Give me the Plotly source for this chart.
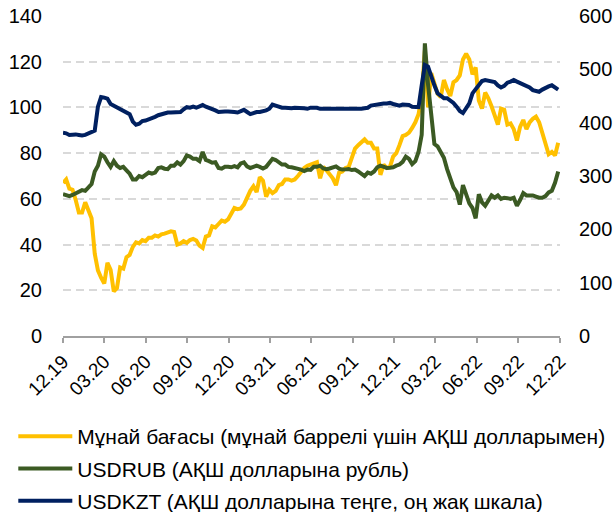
import pandas as pd
import plotly.graph_objects as go

# Weekly observations (Tuesdays) from 31.12.2019 to 27.12.2022
dates = pd.date_range("2019-12-31", periods=157, freq="7D")

oil = [
    67.0, 68.5, 64.5, 64.0, 59.5, 54.0, 54.0, 58.5, 55.0, 51.5,
    36.0, 28.7, 25.5, 23.0, 32.0, 29.0, 19.5, 21.0, 30.0, 29.5,
    34.5, 35.5, 39.0, 41.0, 40.5, 42.0, 41.5, 43.0, 43.0, 44.0,
    43.5, 44.5, 44.8, 45.5, 45.8, 45.5, 40.0, 40.5, 41.5, 40.8,
    42.0, 42.5, 41.8, 39.5, 38.5, 43.5, 44.0, 48.0, 47.5, 49.0,
    50.5, 50.0, 51.0, 53.5, 56.0, 55.5, 55.8, 57.5, 61.0, 63.5,
    65.5, 63.0, 69.5, 68.0, 61.0, 64.0, 62.5, 63.5, 66.0, 66.5,
    68.5, 68.5, 68.0, 68.5, 70.0, 72.0, 73.5, 74.5, 75.0, 75.5,
    76.0, 69.0, 74.0, 72.5, 70.5, 69.0, 66.0, 71.5, 72.0, 73.5,
    74.0, 78.0, 82.0, 83.5, 85.0, 86.0, 84.5, 84.5, 82.0, 82.0,
    70.5, 75.0, 73.5, 74.0, 78.5, 80.0, 83.5, 87.5, 88.0, 89.0,
    91.0, 93.5, 97.0, 105.0, 125.0, 100.0, 115.0, 110.0, 106.0, 104.5,
    112.0, 108.0, 105.0, 111.0, 112.0, 114.0, 121.0, 123.5, 121.0, 114.5,
    117.5, 103.0, 99.5, 106.5, 104.0, 100.5, 96.5, 92.5, 99.5, 99.0,
    92.5, 93.0, 90.5, 85.5, 91.5, 94.5, 90.5, 93.5, 95.0, 96.0,
    93.5, 88.5, 83.0, 79.5, 80.5, 79.0, 84.5,
]

usdrub = [
    62.0, 61.8, 61.2, 61.7, 62.5, 63.5, 63.8, 63.5, 65.0, 66.5,
    72.0, 74.5, 79.5, 78.5, 76.0, 74.0, 76.5, 74.5, 73.5, 74.0,
    72.5, 71.0, 68.5, 68.5, 70.0, 69.5, 70.5, 71.5, 71.0, 71.5,
    73.5, 73.8, 73.2, 73.0, 74.5, 74.5, 76.0, 75.0, 76.5, 79.0,
    78.5, 77.5, 77.5, 76.5, 80.5, 77.0, 76.5, 75.8, 76.0, 73.5,
    73.2, 74.0, 74.0, 73.8, 74.3, 73.8, 75.5, 76.0, 74.2, 73.5,
    74.0, 74.5, 74.0, 73.3, 74.0, 75.8, 77.5, 77.0, 76.0, 75.0,
    75.0, 74.0, 73.8, 73.5, 73.5, 72.8, 72.2, 72.8, 72.7, 74.0,
    74.0, 74.5, 73.3, 73.0, 73.3, 73.8, 74.2, 73.2, 72.8, 72.9,
    73.0, 72.6, 72.8, 72.0, 71.0, 70.0, 71.5, 71.0, 72.0, 73.8,
    74.5, 73.8, 73.5, 73.6, 73.8, 74.5, 75.0, 76.2, 78.5, 77.5,
    75.2, 76.5, 80.5, 88.0, 128.0, 110.0, 98.0, 84.0, 83.0, 80.0,
    78.0, 73.0, 68.5, 65.0, 63.0, 57.5, 66.0, 61.5, 58.0, 56.0,
    51.5, 62.0, 58.5, 57.0, 59.5, 61.5, 60.5, 61.5, 60.0, 60.5,
    60.3, 60.0, 60.5, 57.0, 59.5, 62.5, 61.5, 61.5, 61.5, 61.0,
    60.5, 60.5, 61.2, 62.8, 63.5, 67.0, 72.0,
]

usdkzt = [
    381, 380, 377, 378, 378, 377, 376, 377, 380, 382,
    385, 430, 448, 447, 445, 435, 432, 428, 425, 421,
    420, 416, 402, 396, 398, 403, 404, 406, 409, 411,
    414, 416, 418, 419, 419, 419, 420, 420, 425, 429,
    428, 430, 428, 431, 433, 430, 428, 425, 423, 420,
    421, 421, 421, 421, 420, 419, 422, 424, 420, 416,
    418, 420, 420, 421, 423, 426, 434, 432, 429, 428,
    428, 427, 427, 428, 428, 427, 427, 426, 428, 428,
    428, 426, 426, 425, 425, 425, 425, 425, 426, 426,
    425, 426, 426, 426, 426, 427, 428, 432, 433, 434,
    436, 436, 436, 437, 435, 434, 432, 434, 433, 433,
    430, 430, 429, 470, 508, 505, 490, 470, 455, 450,
    446, 446, 442, 437, 430, 422, 418, 426, 436, 455,
    462, 471, 478, 480, 479, 478, 476, 470, 466, 469,
    475, 477, 480, 477, 474, 472, 470, 466, 461, 460,
    458, 462, 466, 468, 470, 467, 462,
]

tick_dates = ["2019-12-31", "2020-03-31", "2020-06-30", "2020-09-30", "2020-12-31",
              "2021-03-31", "2021-06-30", "2021-09-30", "2021-12-31",
              "2022-03-31", "2022-06-30", "2022-09-30", "2022-12-31"]
tick_labels = ["12.19", "03.20", "06.20", "09.20", "12.20", "03.21", "06.21",
               "09.21", "12.21", "03.22", "06.22", "09.22", "12.22"]

names = ["Мұнай бағасы (мұнай баррелі үшін АҚШ долларымен)",
         "USDRUB (АҚШ долларына рубль)",
         "USDKZT (АҚШ долларына теңге, оң жақ шкала)"]
colors = ["#FFC000", "#3B5A23", "#002060"]

fig = go.Figure()
fig.add_trace(go.Scatter(x=dates, y=oil, name=names[0], mode="lines",
                         line=dict(color=colors[0], width=4), legendgroup="a"))
fig.add_trace(go.Scatter(x=dates, y=usdrub, name=names[1], mode="lines",
                         line=dict(color=colors[1], width=4), legendgroup="b"))
fig.add_trace(go.Scatter(x=dates, y=usdkzt, name=names[2], mode="lines", yaxis="y2",
                         line=dict(color=colors[2], width=4), legendgroup="c"))

font_family = "Liberation Sans, Arial, sans-serif"
fig.update_layout(
    width=615, height=512,
    margin=dict(l=63, r=55, t=16, b=176, autoexpand=False),
    paper_bgcolor="white", plot_bgcolor="white",
    font=dict(family=font_family, color="#000000", size=18),
    showlegend=True,
    legend=dict(orientation="v", x=-0.1, xanchor="left", y=-0.25, yanchor="top",
                font=dict(size=21, family=font_family, color="#000000"),
                tracegroupgap=2, itemwidth=54, bgcolor="rgba(0,0,0,0)"),
    xaxis=dict(type="date", range=["2019-12-31", "2022-12-31"],
               tickvals=tick_dates, ticktext=tick_labels, tickangle=-45,
               showgrid=False, showline=True, linecolor="#A0A0A0", linewidth=2,
               ticks="outside", ticklen=5, tickcolor="#A0A0A0", tickwidth=2,
               tickfont=dict(size=19), zeroline=False),
    yaxis=dict(range=[0, 140], dtick=20, showgrid=True, gridcolor="#D9D9D9",
               griddash="8px,5px", gridwidth=2, zeroline=False, ticks="",
               tickfont=dict(size=20), ticklabelstandoff=20, showline=False),
    yaxis2=dict(range=[0, 600], dtick=100, overlaying="y", side="right",
                showgrid=False, zeroline=False, ticks="", showline=False,
                tickfont=dict(size=20), ticklabelstandoff=18),
)

fig.write_html("out.html", config={"displayModeBar": False},
               post_script="document.body.style.margin='0';")
